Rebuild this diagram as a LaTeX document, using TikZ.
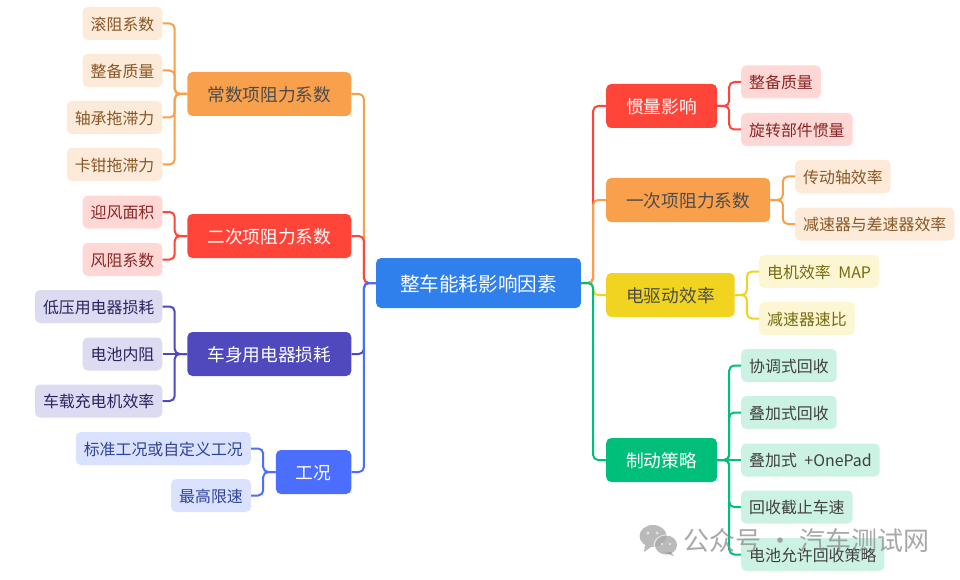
\documentclass[tikz,border=0pt]{standalone}
\usepackage{fontspec}
\setmainfont{Noto Sans CJK SC}
\definecolor{corange}{HTML}{F8A04C}
\definecolor{cred}{HTML}{FF453A}
\definecolor{cindigo}{HTML}{4F49BD}
\definecolor{cblue}{HTML}{4C6EFF}
\definecolor{croot}{HTML}{2F80ED}
\definecolor{cyellow}{HTML}{F1D41F}
\definecolor{cgreen}{HTML}{00BF7A}
\begin{document}
\begin{tikzpicture}[x=1pt,y=-1pt]
 \tikzstyle{box} = [rounded corners=5pt, inner ysep=0pt]
 \tikzstyle{leaf} = [box, inner xsep=8pt, minimum height=33pt, text height=14.7pt, text depth=1.2pt, font=\fontsize{15.9}{18}\selectfont]
 \tikzstyle{main} = [box, inner xsep=20pt, minimum height=44pt, text height=16.2pt, text depth=1.5pt, font=\fontsize{17.7}{20}\selectfont]
 \tikzstyle{lo} = [leaf, fill=corange!22!white, text=orange!45!black!85]
 \tikzstyle{lr} = [leaf, fill=cred!21!white, text=red!45!black!85]
 \tikzstyle{li} = [leaf, fill=cindigo!20!white, text=cindigo!50!black]
 \tikzstyle{lb} = [leaf, fill=cblue!20!white, text=cblue!60!black]
 \tikzstyle{ly} = [leaf, fill=cyellow!20!white, text=cyellow!50!black]
 \tikzstyle{lg} = [leaf, fill=cgreen!20!white, text=black!75]
 \tikzstyle{e} = [line width=2pt, rounded corners=5pt]
    \useasboundingbox (0,0) rectangle (960,580);
    \fill[white] (0,0) rectangle (960,580);
    %% root and the main boxes
    \node[box, inner xsep=24pt, minimum height=50pt, text height=17.9pt, text depth=1.7pt, fill=croot, text=white, font=\fontsize{19.6}{22}\selectfont] (r) at (478.5,283) {整车能耗影响因素};
    \node[main,anchor=east,fill=corange,text=black!70] (p1) at (351.5,94) {常数项阻力系数};
    \node[main,anchor=east,fill=cred,text=white] (p2) at (351.5,236) {二次项阻力系数};
    \node[main,anchor=east,fill=cindigo,text=white] (p3) at (351.5,354) {车身用电器损耗};
    \node[main,anchor=east,fill=cblue,text=white] (p4) at (351.5,472) {工况};
    \node[main,anchor=west,fill=cred,text=white] (q1) at (606,106) {惯量影响};
    \node[main,anchor=west,fill=corange,text=black!70] (q2) at (606,200) {一次项阻力系数};
    \node[main,anchor=west,fill=cyellow,text=black!70] (q3) at (606,295) {电驱动效率};
    \node[main,anchor=west,fill=cgreen,text=white] (q4) at (606,460) {制动策略};
    %% left leaves
    \node[lo,anchor=east] (p1a) at (162.5,23.5) {滚阻系数};
    \node[lo,anchor=east] (p1b) at (162.5,70.5) {整备质量};
    \node[lo,anchor=east] (p1c) at (162.5,117.5) {轴承拖滞力};
    \node[lo,anchor=east] (p1d) at (162.5,164.5) {卡钳拖滞力};
    \node[lr,anchor=east] (p2a) at (162.5,212) {迎风面积};
    \node[lr,anchor=east] (p2b) at (162.5,259.5) {风阻系数};
    \node[li,anchor=east] (p3a) at (162.5,306.5) {低压用电器损耗};
    \node[li,anchor=east] (p3b) at (162.5,354) {电池内阻};
    \node[li,anchor=east] (p3c) at (162.5,401) {车载充电机效率};
    \node[lb,anchor=east] (p4a) at (251,448.5) {标准工况或自定义工况};
    \node[lb,anchor=east] (p4b) at (251,495.5) {最高限速};
    %% right leaves
    \node[lr,anchor=west] (q1a) at (741,82) {整备质量};
    \node[lr,anchor=west] (q1b) at (741,129.5) {旋转部件惯量};
    \node[lo,anchor=west] (q2a) at (795,176.5) {传动轴效率};
    \node[lo,anchor=west] (q2b) at (795,224) {减速器与差速器效率};
    \node[ly,anchor=west] (q3a) at (759,271.5) {电机效率\hspace{4pt} MAP};
    \node[ly,anchor=west] (q3b) at (759,318.5) {减速器速比};
    \node[lg,anchor=west] (q4a) at (741,365.5) {协调式回收};
    \node[lg,anchor=west] (q4b) at (741,412.5) {叠加式回收};
    \node[lg,anchor=west] (q4c) at (741,460) {叠加式\hspace{4pt} +OnePad};
    \node[lg,anchor=west] (q4d) at (741,507) {回收截止车速};
    \node[lg,anchor=west] (q4e) at (741,554.5) {电池允许回收策略};
    %% trunk lines, later colours lie on top
    \draw[e,corange] (r.west) -- ++(-12,0) |- (p1.east);
    \draw[e,cred] (r.west) -- ++(-12,0) |- (p2.east);
    \draw[e,cindigo] (r.west) -- ++(-12,0) |- (p3.east);
    \draw[e,cblue] (r.west) -- ++(-12,0) |- (p4.east);
    \draw[e,cred] (r.east) -- ++(12,0) |- (q1.west);
    \draw[e,corange] (r.east) -- ++(12,0) |- (q2.west);
    \draw[e,cyellow] (r.east) -- ++(12,0) |- (q3.west);
    \draw[e,cgreen] (r.east) -- ++(12,0) |- (q4.west);
    %% branches
    \draw[e,corange] (p1.west) -- ++(-12.5,0) |- (p1a.east);
    \draw[e,corange] (p1.west) -- ++(-12.5,0) |- (p1b.east);
    \draw[e,corange] (p1.west) -- ++(-12.5,0) |- (p1c.east);
    \draw[e,corange] (p1.west) -- ++(-12.5,0) |- (p1d.east);
    \draw[e,cred] (p2.west) -- ++(-12.5,0) |- (p2a.east);
    \draw[e,cred] (p2.west) -- ++(-12.5,0) |- (p2b.east);
    \draw[e,cindigo] (p3.west) -- ++(-12.5,0) |- (p3a.east);
    \draw[e,cindigo] (p3.west) -- (p3b.east);
    \draw[e,cindigo] (p3.west) -- ++(-12.5,0) |- (p3c.east);
    \draw[e,cblue] (p4.west) -- ++(-12.5,0) |- (p4a.east);
    \draw[e,cblue] (p4.west) -- ++(-12.5,0) |- (p4b.east);
    \draw[e,cred] (q1.east) -- ++(12,0) |- (q1a.west);
    \draw[e,cred] (q1.east) -- ++(12,0) |- (q1b.west);
    \draw[e,corange] (q2.east) -- ++(12.5,0) |- (q2a.west);
    \draw[e,corange] (q2.east) -- ++(12.5,0) |- (q2b.west);
    \draw[e,cyellow] (q3.east) -- ++(12,0) |- (q3a.west);
    \draw[e,cyellow] (q3.east) -- ++(12,0) |- (q3b.west);
    \draw[e,cgreen] (q4.east) -- ++(12,0) |- (q4a.west);
    \draw[e,cgreen] (q4.east) -- ++(12,0) |- (q4b.west);
    \draw[e,cgreen] (q4.east) -- (q4c.west);
    \draw[e,cgreen] (q4.east) -- ++(12,0) |- (q4d.west);
    \draw[e,cgreen] (q4.east) -- ++(12,0) |- (q4e.west);
    %% mark at the lower right
    \begin{scope}[opacity=.6]
        \fill[black!45] (653,536) ellipse (13.5 and 11);
        \fill[black!45] (645,545) -- (644,552) -- (651,547) -- cycle;
        \fill[white] (666,545) ellipse (12.5 and 10.5);
        \fill[black!45] (666,545) ellipse (11 and 9.5);
        \fill[black!45] (671,552) -- (674,556) -- (665,553) -- cycle;
        \fill[white] (648,533) circle (1.7);
        \fill[white] (657,533) circle (1.7);
        \fill[white] (662,544) circle (1.4);
        \fill[white] (670,544) circle (1.4);
    \end{scope}
    \node[anchor=west, inner sep=0pt, text=black!45, opacity=.75, font=\fontsize{26}{30}\selectfont] (mark) at (683,541) {公众号\hspace{6pt}·\hspace{6pt}汽车测试网};
\end{tikzpicture}
\end{document}
